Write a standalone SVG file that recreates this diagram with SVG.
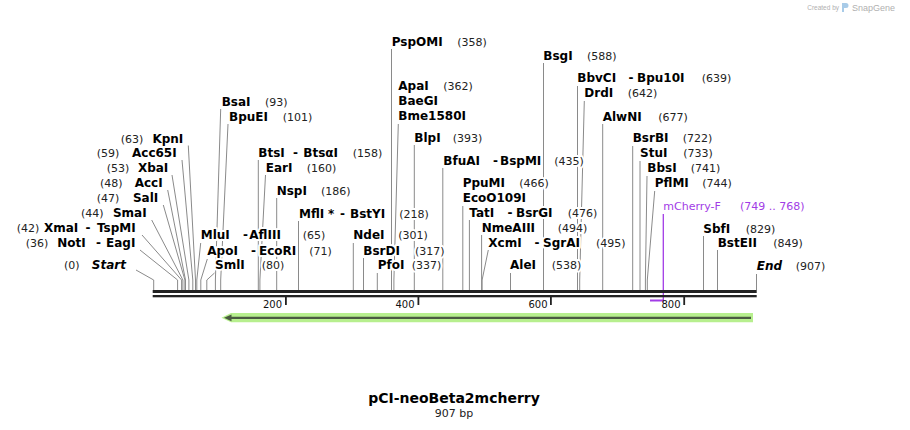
<svg xmlns="http://www.w3.org/2000/svg" width="910" height="430" viewBox="0 0 910 430">
<style>
.n{font-family:"DejaVu Sans",Verdana,sans-serif;font-weight:bold;font-size:12px;fill:#000;paint-order:stroke;stroke:#fff;stroke-width:4px;stroke-linejoin:round}
.i{font-style:italic}
.c{font-family:"DejaVu Sans",Verdana,sans-serif;font-size:11px;fill:#222;paint-order:stroke;stroke:#fff;stroke-width:4px;stroke-linejoin:round}
.e{text-anchor:end}
.p{fill:#a23ce6}
.t{font-family:"DejaVu Sans",Verdana,sans-serif;font-size:10px;fill:#111}
.l{stroke:#8a8a8a;stroke-width:1;fill:none}
</style>
<rect width="910" height="430" fill="#fff"/>
<g id="credit">
<text x="839" y="10" font-family="Liberation Sans,Arial,sans-serif" font-size="6.5" fill="#b0b0b0" text-anchor="end">Created by</text>
<path d="M842 3h4a2.5 2.5 0 0 1 0 5h-2v4h-2z" fill="#a8cbe8"/>
<text x="852" y="11" font-family="Liberation Sans,Arial,sans-serif" font-size="9" fill="#b0b0b0">SnapGene</text>
</g>
<g id="connectors">
<polyline class="l" points="136,270 153.7,280 153.7,290"/>
<polyline class="l" points="140,250 177.6,280 177.6,290"/>
<polyline class="l" points="142,235 181.6,280 181.6,290"/>
<polyline class="l" points="151.7,220 182.9,280 182.9,290"/>
<polyline class="l" points="163.3,205 184.9,280 184.9,290"/>
<polyline class="l" points="167.7,190 185.5,280 185.5,290"/>
<polyline class="l" points="172,175 188.9,280 188.9,290"/>
<polyline class="l" points="182,160 192.8,280 192.8,290"/>
<polyline class="l" points="188.3,145.5 195.5,280 195.5,290"/>
<polyline class="l" points="200.7,243 196.8,280 196.8,290"/>
<polyline class="l" points="207.3,259 200.8,280 200.8,290"/>
<polyline class="l" points="214.5,273 206.8,280 206.8,290"/>
<polyline class="l" points="220.7,109 215.4,280 215.4,290"/>
<polyline class="l" points="228,124 220.7,280 220.7,290"/>
<polyline class="l" points="258.3,160 258.3,290"/>
<polyline class="l" points="265.5,175 259.9,280 259.9,290"/>
<polyline class="l" points="276.7,198 276.7,290"/>
<polyline class="l" points="298.5,221 298.5,290"/>
<polyline class="l" points="353.3,243 353.3,290"/>
<polyline class="l" points="363.5,258 363.5,290"/>
<polyline class="l" points="377.3,273 377.3,290"/>
<polyline class="l" points="391.5,49 391.5,290"/>
<polyline class="l" points="398.3,124 393.9,280 393.9,290"/>
<polyline class="l" points="414.3,145 414.3,290"/>
<polyline class="l" points="442.8,168 442.8,290"/>
<polyline class="l" points="462.8,206 462.8,290"/>
<polyline class="l" points="469.4,220 469.4,290"/>
<polyline class="l" points="481.6,235 481.6,290"/>
<polyline class="l" points="488.3,250 482.1,280 482.1,290"/>
<polyline class="l" points="510.5,273 510.5,290"/>
<polyline class="l" points="543.5,63 543.5,290"/>
<polyline class="l" points="577.5,86 577.5,290"/>
<polyline class="l" points="584.3,101 579.7,280 579.7,290"/>
<polyline class="l" points="602.7,124 602.7,290"/>
<polyline class="l" points="632.7,146 632.7,290"/>
<polyline class="l" points="640,161 640,290"/>
<polyline class="l" points="647,176 645.4,280 645.4,290"/>
<polyline class="l" points="654.7,191 647.3,280 647.3,290"/>
<polyline class="l" points="703.5,236 703.5,290"/>
<polyline class="l" points="717.5,250 717.5,290"/>
<polyline class="l" points="756.5,274 756.5,290"/>
<line x1="663.3" y1="214" x2="663.3" y2="301" stroke="#a23ce6" stroke-width="1.3"/>
<line x1="650" y1="300.5" x2="664" y2="300.5" stroke="#a23ce6" stroke-width="2"/>
</g>
<g id="backbone">
<rect x="152.7" y="290" width="604" height="3" fill="#222"/>
<rect x="152.7" y="295" width="604" height="2.3" fill="#222"/>
<rect x="285" y="297" width="1.8" height="8" fill="#222"/>
<rect x="417.5" y="297" width="1.8" height="8" fill="#222"/>
<rect x="550" y="297" width="1.8" height="8" fill="#222"/>
<rect x="683.3" y="297" width="1.8" height="8" fill="#222"/>
<text class="t e" x="282" y="307.5">200</text>
<text class="t e" x="414.5" y="307.5">400</text>
<text class="t e" x="547.5" y="307.5">600</text>
<text class="t e" x="680.5" y="307.5">800</text>
</g>
<g id="feature">
<polygon points="221.5,317.8 231,313 753,313 753,322.3 231,322.3" fill="#b7ef8e"/>
<line x1="229" y1="317.8" x2="751" y2="317.8" stroke="#4a5a41" stroke-width="2.2"/>
<polygon points="224,317.8 231.5,314.4 231.5,321.2" fill="#4a5a41"/>
</g>
<g id="start"><text class="c" x="64" y="269.3">(0)</text><text class="n i e" x="126" y="269.3">Start</text></g>
<g id="NotI"><text class="c" x="25.7" y="247">(36)</text><text class="n" x="57.3" y="247">NotI</text><text class="n" x="96" y="247">-</text><text class="n" x="106" y="247">EagI</text></g>
<g id="XmaI"><text class="c" x="16.7" y="232">(42)</text><text class="n" x="44" y="232">XmaI</text><text class="n" x="85.5" y="232">-</text><text class="n" x="97" y="232">TspMI</text></g>
<g id="SmaI"><text class="c" x="81" y="217">(44)</text><text class="n e" x="146.7" y="217">SmaI</text></g>
<g id="SalI"><text class="c" x="96.7" y="202">(47)</text><text class="n e" x="158.3" y="202">SalI</text></g>
<g id="AccI"><text class="c" x="100" y="187">(48)</text><text class="n e" x="162.7" y="187">AccI</text></g>
<g id="XbaI"><text class="c" x="106.7" y="172.3">(53)</text><text class="n e" x="168.3" y="172.3">XbaI</text></g>
<g id="Acc65I"><text class="c" x="96.7" y="157.3">(59)</text><text class="n e" x="176.7" y="157.3">Acc65I</text></g>
<g id="KpnI"><text class="c" x="120.7" y="142.7">(63)</text><text class="n e" x="183.3" y="142.7">KpnI</text></g>
<g id="MluI"><text class="n" x="200.7" y="239.3">MluI</text><text class="n" x="243" y="239.3">-</text><text class="n" x="249.3" y="239.3">AflIII</text><text class="c" x="302.7" y="239.3">(65)</text></g>
<g id="ApoI"><text class="n" x="207.3" y="255">ApoI</text><text class="n" x="251" y="255">-</text><text class="n" x="259" y="255">EcoRI</text><text class="c" x="309.3" y="255">(71)</text></g>
<g id="SmlI"><text class="n" x="215" y="269.3">SmlI</text><text class="c" x="261.7" y="269.3">(80)</text></g>
<g id="BsaI"><text class="n" x="221.7" y="105.7">BsaI</text><text class="c" x="265" y="105.7">(93)</text></g>
<g id="BpuEI"><text class="n" x="229" y="120.7">BpuEI</text><text class="c" x="282.7" y="120.7">(101)</text></g>
<g id="BtsI"><text class="n" x="258.3" y="156.7">BtsI</text><text class="n" x="293" y="156.7">-</text><text class="n" x="303.3" y="156.7">BtsαI</text><text class="c" x="352.7" y="156.7">(158)</text></g>
<g id="EarI"><text class="n" x="265.7" y="171.7">EarI</text><text class="c" x="306.7" y="171.7">(160)</text></g>
<g id="NspI"><text class="n" x="276.7" y="195">NspI</text><text class="c" x="321" y="195">(186)</text></g>
<g id="MflI"><text class="n" x="299" y="217.7">MflI</text><text class="n" x="328" y="217.7">*</text><text class="n" x="340" y="217.7">-</text><text class="n" x="350" y="217.7">BstYI</text><text class="c" x="399.3" y="217.7">(218)</text></g>
<g id="NdeI"><text class="n" x="353.3" y="239.3">NdeI</text><text class="c" x="398.3" y="239.3">(301)</text></g>
<g id="BsrDI"><text class="n" x="363.3" y="255">BsrDI</text><text class="c" x="415" y="255">(317)</text></g>
<g id="PfoI"><text class="n" x="377.7" y="269.3">PfoI</text><text class="c" x="411.7" y="269.3">(337)</text></g>
<g id="PspOMI"><text class="n" x="391.7" y="45.7">PspOMI</text><text class="c" x="457.3" y="45.7">(358)</text></g>
<g id="ApaI"><text class="n" x="398.3" y="90">ApaI</text><text class="c" x="443.3" y="90">(362)</text><text class="n" x="398.3" y="105">BaeGI</text><text class="n" x="398.3" y="120">Bme1580I</text></g>
<g id="BlpI"><text class="n" x="414.3" y="141.7">BlpI</text><text class="c" x="452.7" y="141.7">(393)</text></g>
<g id="BfuAI"><text class="n" x="443.3" y="165">BfuAI</text><text class="n" x="493" y="165">-</text><text class="n" x="500" y="165">BspMI</text><text class="c" x="554.3" y="165">(435)</text></g>
<g id="PpuMI"><text class="n" x="462.7" y="186.7">PpuMI</text><text class="c" x="519.3" y="186.7">(466)</text><text class="n" x="462.7" y="202.3">EcoO109I</text></g>
<g id="TatI"><text class="n" x="469.3" y="216.7">TatI</text><text class="n" x="507.5" y="216.7">-</text><text class="n" x="516" y="216.7">BsrGI</text><text class="c" x="567.7" y="216.7">(476)</text></g>
<g id="NmeAIII"><text class="n" x="481.7" y="231.7">NmeAIII</text><text class="c" x="557.7" y="231.7">(494)</text></g>
<g id="XcmI"><text class="n" x="488.3" y="246.7">XcmI</text><text class="n" x="534.5" y="246.7">-</text><text class="n" x="543" y="246.7">SgrAI</text><text class="c" x="596" y="246.7">(495)</text></g>
<g id="AleI"><text class="n" x="510" y="269.3">AleI</text><text class="c" x="551.7" y="269.3">(538)</text></g>
<g id="BsgI"><text class="n" x="543.3" y="59.5">BsgI</text><text class="c" x="587" y="59.5">(588)</text></g>
<g id="BbvCI"><text class="n" x="577.3" y="82.3">BbvCI</text><text class="n" x="628.5" y="82.3">-</text><text class="n" x="637" y="82.3">Bpu10I</text><text class="c" x="701.7" y="82.3">(639)</text></g>
<g id="DrdI"><text class="n" x="584.3" y="97.3">DrdI</text><text class="c" x="627.7" y="97.3">(642)</text></g>
<g id="AlwNI"><text class="n" x="602.7" y="120.7">AlwNI</text><text class="c" x="658.3" y="120.7">(677)</text></g>
<g id="BsrBI"><text class="n" x="632.7" y="142.3">BsrBI</text><text class="c" x="682.7" y="142.3">(722)</text></g>
<g id="StuI"><text class="n" x="640" y="157.3">StuI</text><text class="c" x="683.3" y="157.3">(733)</text></g>
<g id="BbsI"><text class="n" x="647.3" y="172.3">BbsI</text><text class="c" x="690.7" y="172.3">(741)</text></g>
<g id="PflMI"><text class="n" x="654.7" y="187.3">PflMI</text><text class="c" x="702.3" y="187.3">(744)</text></g>
<g id="mCherry-F"><text class="c p" x="663.3" y="210" font-size="12">mCherry-F</text><text class="c p" x="740" y="210">(749 .. 768)</text></g>
<g id="SbfI"><text class="n" x="703.3" y="232.7">SbfI</text><text class="c" x="745.7" y="232.7">(829)</text></g>
<g id="BstEII"><text class="n" x="717.7" y="246.7">BstEII</text><text class="c" x="773.3" y="246.7">(849)</text></g>
<g id="end"><text class="n i" x="756.7" y="270">End</text><text class="c" x="795.7" y="270">(907)</text></g>
<g id="title">
<text x="454" y="403" text-anchor="middle" font-family="DejaVu Sans,Verdana,sans-serif" font-weight="bold" font-size="14" fill="#000">pCI-neoBeta2mcherry</text>
<text x="454" y="417" text-anchor="middle" font-family="DejaVu Sans,Verdana,sans-serif" font-size="11" fill="#222">907 bp</text>
</g>
</svg>
